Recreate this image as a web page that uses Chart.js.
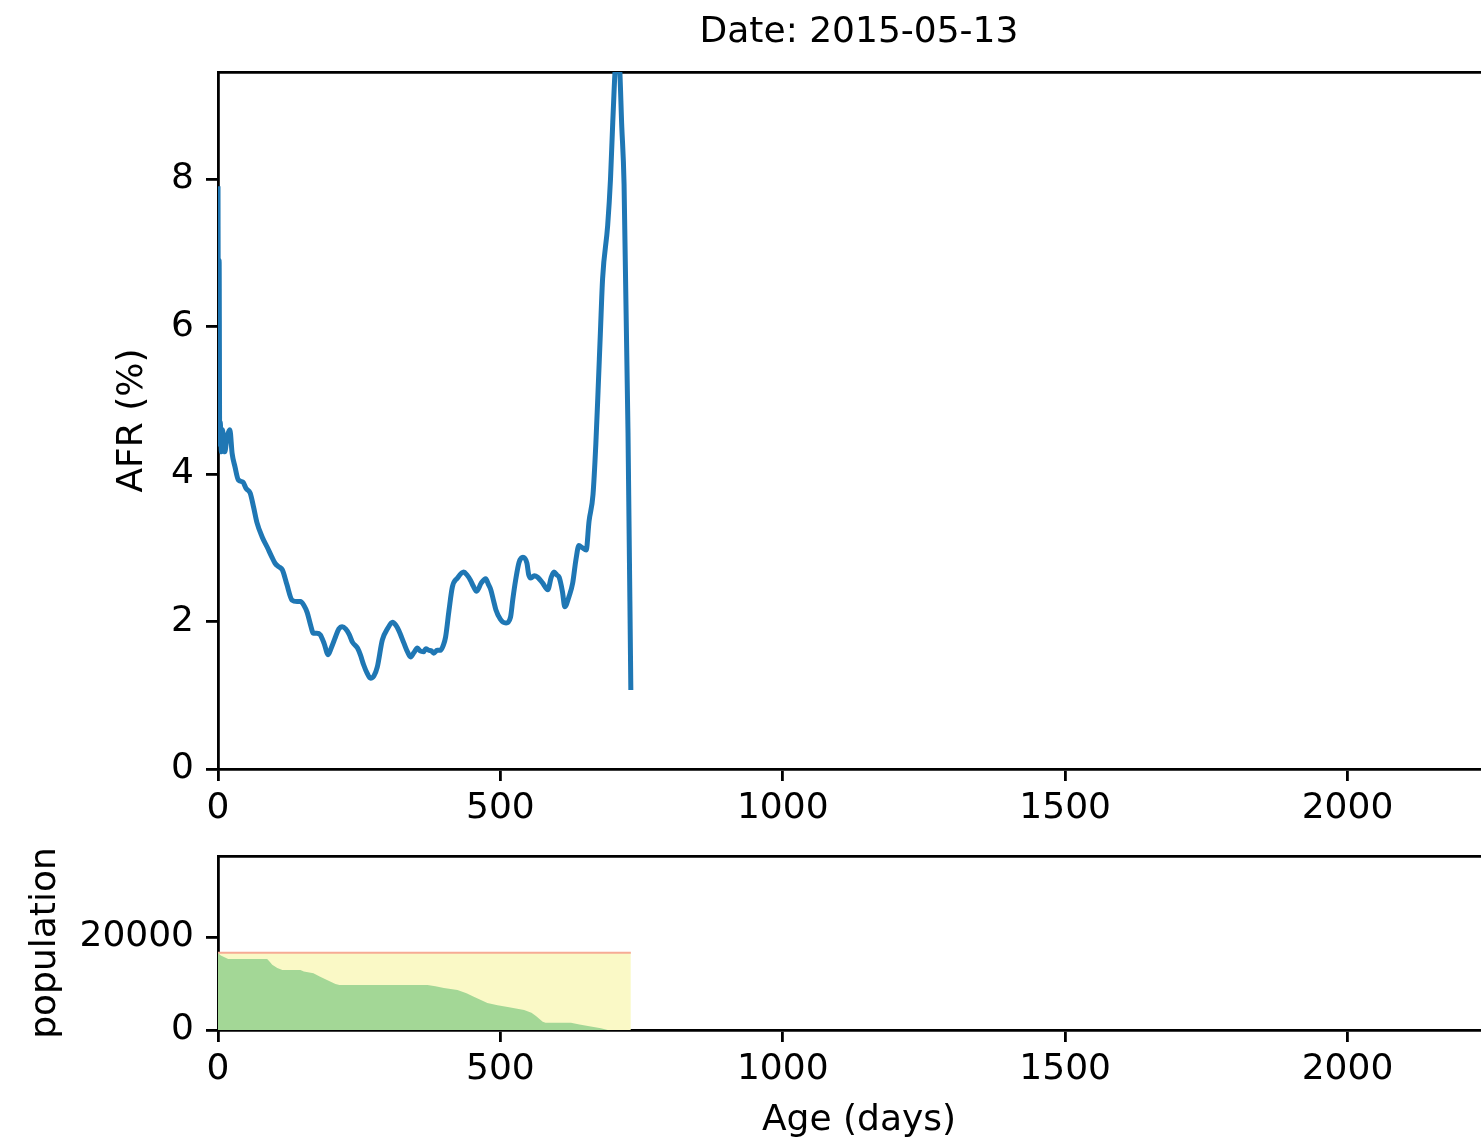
<!DOCTYPE html>
<html>
<head>
<meta charset="utf-8">
<title>AFR by age</title>
<script src="https://cdn.jsdelivr.net/npm/chart.js@4.4.1/dist/chart.umd.min.js"></script>
<style>
  body { margin: 0; background: #fff; overflow: hidden; }
  #wrap { width: 1481px; height: 1142px; overflow: hidden; position: relative; }
  canvas { display: block; }
</style>
</head>
<body>
<div id="wrap">
  <canvas id="afrChart" width="1500" height="840"></canvas>
  <canvas id="popChart" width="1500" height="302"></canvas>
</div>
<script>
// Values
const dateLabel = 'Date: 2015-05-13';

const afrDays = [0, 1, 2, 3, 4, 6, 8, 10, 12, 16, 21, 25, 30, 36, 44, 50, 57, 63, 69, 78,
  87, 95, 101, 108, 114, 122, 131, 140, 146, 152, 158, 164, 169, 175, 181, 188, 195, 201, 208, 214,
  220, 226, 232, 238, 247, 252, 258, 264, 270, 276, 282, 291, 300, 309, 315, 320, 329, 336, 341, 347,
  353, 358, 364, 368, 373, 378, 382, 388, 394, 399, 403, 409, 415, 424, 435, 441, 447, 452, 458, 466,
  474, 479, 483, 488, 492, 500, 505, 510, 518, 522, 527, 533, 540, 547, 550, 554, 560, 566, 575, 584,
  590, 595, 600, 604, 610, 614, 622, 628, 634, 639, 645, 652, 657, 664, 669, 673, 677, 681, 690, 695,
  699, 705, 710, 715, 719, 726, 731];
const afrValues = [7.9, 4.5, 6.9, 4.4, 4.7, 4.3, 4.6, 4.4, 4.3, 4.5, 4.6, 4.28, 4.1, 3.92, 3.89, 3.8, 3.74, 3.55, 3.34, 3.15,
  3.01, 2.88, 2.79, 2.74, 2.70, 2.5, 2.29, 2.27, 2.27, 2.22, 2.12, 1.95, 1.84, 1.84, 1.82, 1.7, 1.55, 1.65, 1.79, 1.9,
  1.93, 1.9, 1.83, 1.72, 1.64, 1.55, 1.41, 1.3, 1.23, 1.26, 1.38, 1.75, 1.9, 1.99, 1.95, 1.88, 1.71, 1.58, 1.52, 1.58,
  1.64, 1.6, 1.59, 1.63, 1.61, 1.6, 1.57, 1.61, 1.61, 1.68, 1.79, 2.15, 2.47, 2.59, 2.67, 2.63, 2.56, 2.48, 2.41, 2.52,
  2.58, 2.5, 2.43, 2.28, 2.16, 2.03, 1.99, 1.98, 2.06, 2.3, 2.56, 2.8, 2.87, 2.79, 2.64, 2.59, 2.62, 2.6, 2.52, 2.43,
  2.6, 2.67, 2.63, 2.6, 2.4, 2.2, 2.35, 2.52, 2.85, 3.03, 3.0, 2.97, 3.36, 3.72, 4.4, 5.13, 5.9, 6.65, 7.37, 8.0,
  8.77, 9.6, 9.6, 8.7, 7.93, 4.56, 1.07];

// population under observation (green) and total (yellow)
const popDays = [0, 5, 18, 87, 92, 96, 105, 114, 146, 152, 169, 180, 193, 208, 215, 371, 385, 400, 424, 440,
  453, 477, 495, 513, 542, 555, 563, 575, 580, 625, 640, 655, 678, 690, 731];
const popValues = [16550, 16000, 15270, 15270, 14600, 14000, 13300, 12900, 12900, 12600, 12200, 11500, 10750, 9900, 9680, 9680, 9400, 9030, 8600, 7900,
  7160, 5800, 5300, 4950, 4300, 3700, 3010, 1790, 1580, 1580, 1200, 860, 360, 0, 0];
const totalDays = [0, 731];
const totalValues = [16600, 16600];

const xTicks = [0, 500, 1000, 1500, 2000];
const afrTicks = [0, 2, 4, 6, 8];
const popTicks = [0, 20000];

const toPoints = (xs, ys) => xs.map((x, i) => ({ x: x, y: ys[i] }));

Chart.defaults.font.family = "'DejaVu Sans', sans-serif";
Chart.defaults.font.size = 36;
Chart.defaults.color = '#000';
Chart.defaults.animation = false;
Chart.defaults.plugins.legend.display = false;
Chart.defaults.plugins.tooltip.enabled = false;

const spine = { display: true, color: '#000', width: 2.8 };
const tickGrid = { display: true, drawOnChartArea: false, drawTicks: true, tickLength: 12, color: '#000', lineWidth: 2.8 };
const plainLabel = v => String(v);

// x axis shared setup
function ageAxis(height, title) {
  return {
    type: 'linear',
    position: 'bottom',
    min: 0,
    max: 2270,
    border: spine,
    grid: tickGrid,
    ticks: { padding: 6, maxRotation: 0, autoSkip: false, callback: plainLabel },
    afterBuildTicks: s => { s.ticks = xTicks.map(v => ({ value: v })); },
    title: title ? { display: true, text: title, padding: { top: 0, bottom: 0 } } : { display: false },
    afterFit: s => { s.height = height; s.paddingLeft = 0; s.paddingRight = 0; }
  };
}

// left axis shared setup
function valueAxis(max, ticks, title, titlePad) {
  return {
    min: 0,
    max: max,
    border: spine,
    grid: tickGrid,
    ticks: { padding: 12, autoSkip: false, callback: plainLabel },
    afterBuildTicks: s => { s.ticks = ticks.map(v => ({ value: v })); },
    title: { display: true, text: title, padding: { top: titlePad, bottom: 0 } },
    afterFit: s => { s.width = 218; s.paddingTop = 0; s.paddingBottom = 0; }
  };
}

// top edge of the box, also carries the title for the upper panel
function topEdge(height, text) {
  return {
    type: 'linear',
    position: 'top',
    border: spine,
    grid: { display: false, drawTicks: false },
    ticks: { display: false },
    title: text ? { display: true, text: text, padding: { top: 11, bottom: 0 } } : { display: false },
    afterFit: s => { s.height = height; }
  };
}

const afrChart = new Chart(document.getElementById('afrChart').getContext('2d'), {
  type: 'line',
  data: {
    datasets: [{
      label: 'AFR',
      data: toPoints(afrDays, afrValues),
      borderColor: '#1f77b4',
      borderWidth: 5,
      pointRadius: 0,
      cubicInterpolationMode: 'monotone',
      fill: false,
      clip: 0
    }]
  },
  options: {
    responsive: false,
    devicePixelRatio: 1,
    layout: { padding: 0 },
    scales: {
      x: ageAxis(71, null),
      x2: topEdge(72, dateLabel),
      y: valueAxis(9.45, afrTicks, 'AFR (%)', 111)
    }
  }
});

const popChart = new Chart(document.getElementById('popChart').getContext('2d'), {
  type: 'line',
  data: {
    datasets: [{
      label: 'population',
      data: toPoints(popDays, popValues),
      borderWidth: 0,
      pointRadius: 0,
      backgroundColor: '#a3d796',
      fill: 'origin',
      order: 0
    }, {
      label: 'total',
      data: toPoints(totalDays, totalValues),
      borderColor: '#f6ab95',
      borderWidth: 2,
      pointRadius: 0,
      backgroundColor: '#faf9c6',
      fill: 'origin',
      order: 1
    }]
  },
  options: {
    responsive: false,
    devicePixelRatio: 1,
    layout: { padding: 0 },
    scales: {
      x: ageAxis(112, 'Age (days)'),
      x2: topEdge(16, null),
      y: valueAxis(37400, popTicks, 'population', 24)
    }
  }
});
</script>
</body>
</html>
